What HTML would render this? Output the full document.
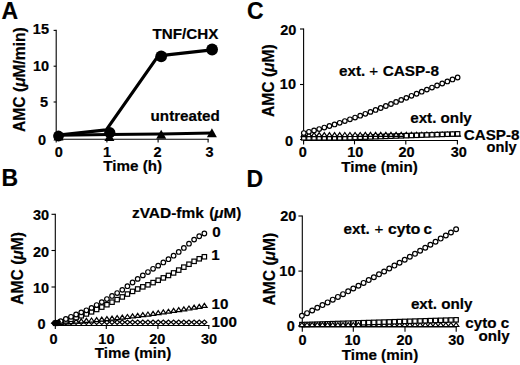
<!DOCTYPE html>
<html><head><meta charset="utf-8"><title>Figure</title>
<style>
html,body{margin:0;padding:0;background:#fff;}
body{width:520px;height:365px;overflow:hidden;}
svg{display:block;}
text{font-family:"Liberation Sans", sans-serif;font-weight:bold;fill:#000;stroke:#000;stroke-width:0.2px;}
</style></head>
<body>
<svg width="520" height="365" viewBox="0 0 520 365">
<rect width="520" height="365" fill="#fff"/>
<text x="1.50" y="18.80" font-size="23" text-anchor="start" >A</text>
<text x="1.40" y="185.80" font-size="23" text-anchor="start" >B</text>
<text x="246.90" y="18.80" font-size="23" text-anchor="start" >C</text>
<text x="246.60" y="186.50" font-size="23" text-anchor="start" >D</text>
<line x1="56.20" y1="29.80" x2="56.20" y2="139.80" stroke="#000" stroke-width="1.1"/>
<line x1="53.60" y1="30.40" x2="56.20" y2="30.40" stroke="#000" stroke-width="1.1"/>
<line x1="53.60" y1="66.20" x2="56.20" y2="66.20" stroke="#000" stroke-width="1.1"/>
<line x1="53.60" y1="102.00" x2="56.20" y2="102.00" stroke="#000" stroke-width="1.1"/>
<line x1="55.60" y1="139.20" x2="208.70" y2="139.20" stroke="#000" stroke-width="1.1"/>
<line x1="56.20" y1="139.20" x2="56.20" y2="142.50" stroke="#000" stroke-width="1.1"/>
<line x1="106.90" y1="139.20" x2="106.90" y2="142.50" stroke="#000" stroke-width="1.1"/>
<line x1="158.10" y1="139.20" x2="158.10" y2="142.50" stroke="#000" stroke-width="1.1"/>
<line x1="208.10" y1="139.20" x2="208.10" y2="142.50" stroke="#000" stroke-width="1.1"/>
<text x="49.00" y="34.00" font-size="14.5" text-anchor="end" >15</text>
<text x="49.10" y="70.60" font-size="14.5" text-anchor="end" >10</text>
<text x="48.00" y="107.30" font-size="14.5" text-anchor="end" >5</text>
<text x="46.10" y="145.00" font-size="14.5" text-anchor="end" >0</text>
<text x="58.80" y="156.70" font-size="14.5" text-anchor="middle" >0</text>
<text x="107.00" y="156.70" font-size="14.5" text-anchor="middle" >1</text>
<text x="157.50" y="156.70" font-size="14.5" text-anchor="middle" >2</text>
<text x="209.50" y="156.70" font-size="14.5" text-anchor="middle" >3</text>
<text x="103.30" y="171.20" font-size="15.2" text-anchor="start" >Time (h)</text>
<text transform="translate(24.50,79.55) rotate(-90)" font-size="15.6" text-anchor="middle">AMC (<tspan font-style="italic">μ</tspan>M/min)</text>
<text x="152.50" y="38.80" font-size="15.2" text-anchor="start" >TNF/CHX</text>
<text x="150.60" y="121.20" font-size="15.2" text-anchor="start" >untreated</text>
<polyline points="58.5,135.2 109.5,134.6 161.2,134.1 212,133.1" fill="none" stroke="#000" stroke-width="3"/>
<polygon points="53.50,140.50 63.50,140.50 58.50,131.50" fill="#000"/>
<polygon points="104.40,141.10 114.40,141.10 109.40,132.10" fill="#000"/>
<polygon points="156.20,138.80 166.20,138.80 161.20,129.80" fill="#000"/>
<polygon points="206.90,137.30 216.90,137.30 211.90,128.30" fill="#000"/>
<polyline points="58.5,135.2 106.3,129.8 158.2,55.8 212,49.9" fill="none" stroke="#000" stroke-width="3.2" stroke-linejoin="round"/>
<circle cx="58.5" cy="136.0" r="5.4" fill="#000"/>
<circle cx="109.8" cy="132.6" r="5.6" fill="#000"/>
<circle cx="161.2" cy="56.3" r="5.9" fill="#000"/>
<circle cx="212.1" cy="49.5" r="5.9" fill="#000"/>
<line x1="55.30" y1="213.70" x2="55.30" y2="326.00" stroke="#000" stroke-width="1.1"/>
<line x1="51.50" y1="214.30" x2="55.30" y2="214.30" stroke="#000" stroke-width="1.1"/>
<line x1="51.50" y1="250.50" x2="55.30" y2="250.50" stroke="#000" stroke-width="1.1"/>
<line x1="51.50" y1="287.00" x2="55.30" y2="287.00" stroke="#000" stroke-width="1.1"/>
<line x1="51.50" y1="323.30" x2="55.30" y2="323.30" stroke="#000" stroke-width="1.1"/>
<line x1="54.70" y1="325.50" x2="209.40" y2="325.50" stroke="#000" stroke-width="1.1"/>
<line x1="55.30" y1="325.50" x2="55.30" y2="329.00" stroke="#000" stroke-width="1.1"/>
<line x1="106.30" y1="325.50" x2="106.30" y2="329.00" stroke="#000" stroke-width="1.1"/>
<line x1="157.90" y1="325.50" x2="157.90" y2="329.00" stroke="#000" stroke-width="1.1"/>
<line x1="208.80" y1="325.50" x2="208.80" y2="329.00" stroke="#000" stroke-width="1.1"/>
<text x="49.10" y="220.30" font-size="14.5" text-anchor="end" >30</text>
<text x="49.10" y="256.80" font-size="14.5" text-anchor="end" >20</text>
<text x="49.10" y="293.30" font-size="14.5" text-anchor="end" >10</text>
<text x="45.60" y="329.10" font-size="14.5" text-anchor="end" >0</text>
<text x="53.50" y="343.60" font-size="14.5" text-anchor="middle" >0</text>
<text x="106.40" y="343.60" font-size="14.5" text-anchor="middle" >10</text>
<text x="157.30" y="343.60" font-size="14.5" text-anchor="middle" >20</text>
<text x="209.00" y="343.60" font-size="14.5" text-anchor="middle" >30</text>
<text x="94.80" y="358.30" font-size="15.2" text-anchor="start" >Time (min)</text>
<text transform="translate(22.80,268.40) rotate(-90)" font-size="15.6" text-anchor="middle">AMC (<tspan font-style="italic">μ</tspan>M)</text>
<text x="131.90" y="218.00" font-size="15.2" text-anchor="start" textLength="72" lengthAdjust="spacingAndGlyphs">zVAD-fmk</text>
<text x="209.30" y="218.00" font-size="15.2" text-anchor="start" >(<tspan font-style="italic">μ</tspan>M)</text>
<text x="212.30" y="236.70" font-size="15.2" text-anchor="start" >0</text>
<text x="211.20" y="259.90" font-size="15.2" text-anchor="start" >1</text>
<text x="211.50" y="308.60" font-size="15.2" text-anchor="start" >10</text>
<text x="211.50" y="327.40" font-size="15.2" text-anchor="start" >100</text>
<polygon points="53.15,322.39 55.60,320.19 58.05,322.39 55.60,324.59" fill="#fff" stroke="#000" stroke-width="1.2"/>
<polygon points="58.28,322.38 60.73,320.18 63.18,322.38 60.73,324.58" fill="#fff" stroke="#000" stroke-width="1.2"/>
<polygon points="63.41,322.38 65.86,320.18 68.31,322.38 65.86,324.58" fill="#fff" stroke="#000" stroke-width="1.2"/>
<polygon points="68.54,322.37 70.99,320.17 73.44,322.37 70.99,324.57" fill="#fff" stroke="#000" stroke-width="1.2"/>
<polygon points="73.67,322.36 76.12,320.16 78.57,322.36 76.12,324.56" fill="#fff" stroke="#000" stroke-width="1.2"/>
<polygon points="78.80,322.35 81.25,320.15 83.70,322.35 81.25,324.55" fill="#fff" stroke="#000" stroke-width="1.2"/>
<polygon points="83.93,322.35 86.38,320.15 88.83,322.35 86.38,324.55" fill="#fff" stroke="#000" stroke-width="1.2"/>
<polygon points="89.06,322.34 91.51,320.14 93.96,322.34 91.51,324.54" fill="#fff" stroke="#000" stroke-width="1.2"/>
<polygon points="94.19,322.33 96.64,320.13 99.09,322.33 96.64,324.53" fill="#fff" stroke="#000" stroke-width="1.2"/>
<polygon points="99.32,322.33 101.77,320.13 104.22,322.33 101.77,324.53" fill="#fff" stroke="#000" stroke-width="1.2"/>
<polygon points="104.45,322.32 106.90,320.12 109.35,322.32 106.90,324.52" fill="#fff" stroke="#000" stroke-width="1.2"/>
<polygon points="109.58,322.31 112.03,320.11 114.48,322.31 112.03,324.51" fill="#fff" stroke="#000" stroke-width="1.2"/>
<polygon points="114.71,322.30 117.16,320.10 119.61,322.30 117.16,324.50" fill="#fff" stroke="#000" stroke-width="1.2"/>
<polygon points="119.84,322.30 122.29,320.10 124.74,322.30 122.29,324.50" fill="#fff" stroke="#000" stroke-width="1.2"/>
<polygon points="124.97,322.29 127.42,320.09 129.87,322.29 127.42,324.49" fill="#fff" stroke="#000" stroke-width="1.2"/>
<polygon points="130.10,322.28 132.55,320.08 135.00,322.28 132.55,324.48" fill="#fff" stroke="#000" stroke-width="1.2"/>
<polygon points="135.23,322.27 137.68,320.07 140.13,322.27 137.68,324.47" fill="#fff" stroke="#000" stroke-width="1.2"/>
<polygon points="140.36,322.27 142.81,320.07 145.26,322.27 142.81,324.47" fill="#fff" stroke="#000" stroke-width="1.2"/>
<polygon points="145.49,322.26 147.94,320.06 150.39,322.26 147.94,324.46" fill="#fff" stroke="#000" stroke-width="1.2"/>
<polygon points="150.62,322.25 153.07,320.05 155.52,322.25 153.07,324.45" fill="#fff" stroke="#000" stroke-width="1.2"/>
<polygon points="155.75,322.25 158.20,320.05 160.65,322.25 158.20,324.45" fill="#fff" stroke="#000" stroke-width="1.2"/>
<polygon points="160.88,322.24 163.33,320.04 165.78,322.24 163.33,324.44" fill="#fff" stroke="#000" stroke-width="1.2"/>
<polygon points="166.01,322.23 168.46,320.03 170.91,322.23 168.46,324.43" fill="#fff" stroke="#000" stroke-width="1.2"/>
<polygon points="171.14,322.22 173.59,320.02 176.04,322.22 173.59,324.42" fill="#fff" stroke="#000" stroke-width="1.2"/>
<polygon points="176.27,322.22 178.72,320.02 181.17,322.22 178.72,324.42" fill="#fff" stroke="#000" stroke-width="1.2"/>
<polygon points="181.40,322.21 183.85,320.01 186.30,322.21 183.85,324.41" fill="#fff" stroke="#000" stroke-width="1.2"/>
<polygon points="186.53,322.20 188.98,320.00 191.43,322.20 188.98,324.40" fill="#fff" stroke="#000" stroke-width="1.2"/>
<polygon points="191.66,322.19 194.11,319.99 196.56,322.19 194.11,324.39" fill="#fff" stroke="#000" stroke-width="1.2"/>
<polygon points="196.79,322.19 199.24,319.99 201.69,322.19 199.24,324.39" fill="#fff" stroke="#000" stroke-width="1.2"/>
<polygon points="201.92,322.18 204.37,319.98 206.82,322.18 204.37,324.38" fill="#fff" stroke="#000" stroke-width="1.2"/>
<polygon points="52.90,324.47 58.30,324.47 55.60,320.47" fill="#fff" stroke="#000" stroke-width="1.2"/>
<polygon points="58.03,324.19 63.43,324.19 60.73,320.19" fill="#fff" stroke="#000" stroke-width="1.2"/>
<polygon points="63.16,323.88 68.56,323.88 65.86,319.88" fill="#fff" stroke="#000" stroke-width="1.2"/>
<polygon points="68.29,323.56 73.69,323.56 70.99,319.56" fill="#fff" stroke="#000" stroke-width="1.2"/>
<polygon points="73.42,323.21 78.82,323.21 76.12,319.21" fill="#fff" stroke="#000" stroke-width="1.2"/>
<polygon points="78.55,322.84 83.95,322.84 81.25,318.84" fill="#fff" stroke="#000" stroke-width="1.2"/>
<polygon points="83.68,322.44 89.08,322.44 86.38,318.44" fill="#fff" stroke="#000" stroke-width="1.2"/>
<polygon points="88.81,322.03 94.21,322.03 91.51,318.03" fill="#fff" stroke="#000" stroke-width="1.2"/>
<polygon points="93.94,321.59 99.34,321.59 96.64,317.59" fill="#fff" stroke="#000" stroke-width="1.2"/>
<polygon points="99.07,321.14 104.47,321.14 101.77,317.14" fill="#fff" stroke="#000" stroke-width="1.2"/>
<polygon points="104.20,320.66 109.60,320.66 106.90,316.66" fill="#fff" stroke="#000" stroke-width="1.2"/>
<polygon points="109.33,320.15 114.73,320.15 112.03,316.15" fill="#fff" stroke="#000" stroke-width="1.2"/>
<polygon points="114.46,319.63 119.86,319.63 117.16,315.63" fill="#fff" stroke="#000" stroke-width="1.2"/>
<polygon points="119.59,319.09 124.99,319.09 122.29,315.09" fill="#fff" stroke="#000" stroke-width="1.2"/>
<polygon points="124.72,318.52 130.12,318.52 127.42,314.52" fill="#fff" stroke="#000" stroke-width="1.2"/>
<polygon points="129.85,317.93 135.25,317.93 132.55,313.93" fill="#fff" stroke="#000" stroke-width="1.2"/>
<polygon points="134.98,317.32 140.38,317.32 137.68,313.32" fill="#fff" stroke="#000" stroke-width="1.2"/>
<polygon points="140.11,316.69 145.51,316.69 142.81,312.69" fill="#fff" stroke="#000" stroke-width="1.2"/>
<polygon points="145.24,316.03 150.64,316.03 147.94,312.03" fill="#fff" stroke="#000" stroke-width="1.2"/>
<polygon points="150.37,315.36 155.77,315.36 153.07,311.36" fill="#fff" stroke="#000" stroke-width="1.2"/>
<polygon points="155.50,314.66 160.90,314.66 158.20,310.66" fill="#fff" stroke="#000" stroke-width="1.2"/>
<polygon points="160.63,313.94 166.03,313.94 163.33,309.94" fill="#fff" stroke="#000" stroke-width="1.2"/>
<polygon points="165.76,313.20 171.16,313.20 168.46,309.20" fill="#fff" stroke="#000" stroke-width="1.2"/>
<polygon points="170.89,312.43 176.29,312.43 173.59,308.43" fill="#fff" stroke="#000" stroke-width="1.2"/>
<polygon points="176.02,311.65 181.42,311.65 178.72,307.65" fill="#fff" stroke="#000" stroke-width="1.2"/>
<polygon points="181.15,310.84 186.55,310.84 183.85,306.84" fill="#fff" stroke="#000" stroke-width="1.2"/>
<polygon points="186.28,310.01 191.68,310.01 188.98,306.01" fill="#fff" stroke="#000" stroke-width="1.2"/>
<polygon points="191.41,309.16 196.81,309.16 194.11,305.16" fill="#fff" stroke="#000" stroke-width="1.2"/>
<polygon points="196.54,308.29 201.94,308.29 199.24,304.29" fill="#fff" stroke="#000" stroke-width="1.2"/>
<polygon points="201.67,307.40 207.07,307.40 204.37,303.40" fill="#fff" stroke="#000" stroke-width="1.2"/>
<rect x="53.40" y="321.10" width="4.4" height="4.4" fill="#fff" stroke="#000" stroke-width="1.2"/>
<rect x="58.53" y="319.98" width="4.4" height="4.4" fill="#fff" stroke="#000" stroke-width="1.2"/>
<rect x="63.66" y="318.68" width="4.4" height="4.4" fill="#fff" stroke="#000" stroke-width="1.2"/>
<rect x="68.79" y="317.13" width="4.4" height="4.4" fill="#fff" stroke="#000" stroke-width="1.2"/>
<rect x="73.92" y="315.40" width="4.4" height="4.4" fill="#fff" stroke="#000" stroke-width="1.2"/>
<rect x="79.05" y="313.60" width="4.4" height="4.4" fill="#fff" stroke="#000" stroke-width="1.2"/>
<rect x="84.18" y="311.75" width="4.4" height="4.4" fill="#fff" stroke="#000" stroke-width="1.2"/>
<rect x="89.31" y="309.64" width="4.4" height="4.4" fill="#fff" stroke="#000" stroke-width="1.2"/>
<rect x="94.44" y="307.27" width="4.4" height="4.4" fill="#fff" stroke="#000" stroke-width="1.2"/>
<rect x="99.57" y="304.91" width="4.4" height="4.4" fill="#fff" stroke="#000" stroke-width="1.2"/>
<rect x="104.70" y="302.53" width="4.4" height="4.4" fill="#fff" stroke="#000" stroke-width="1.2"/>
<rect x="109.83" y="299.98" width="4.4" height="4.4" fill="#fff" stroke="#000" stroke-width="1.2"/>
<rect x="114.96" y="297.41" width="4.4" height="4.4" fill="#fff" stroke="#000" stroke-width="1.2"/>
<rect x="120.09" y="294.73" width="4.4" height="4.4" fill="#fff" stroke="#000" stroke-width="1.2"/>
<rect x="125.22" y="291.86" width="4.4" height="4.4" fill="#fff" stroke="#000" stroke-width="1.2"/>
<rect x="130.35" y="289.18" width="4.4" height="4.4" fill="#fff" stroke="#000" stroke-width="1.2"/>
<rect x="135.48" y="286.80" width="4.4" height="4.4" fill="#fff" stroke="#000" stroke-width="1.2"/>
<rect x="140.61" y="284.66" width="4.4" height="4.4" fill="#fff" stroke="#000" stroke-width="1.2"/>
<rect x="145.74" y="282.61" width="4.4" height="4.4" fill="#fff" stroke="#000" stroke-width="1.2"/>
<rect x="150.87" y="280.40" width="4.4" height="4.4" fill="#fff" stroke="#000" stroke-width="1.2"/>
<rect x="156.00" y="278.06" width="4.4" height="4.4" fill="#fff" stroke="#000" stroke-width="1.2"/>
<rect x="161.13" y="275.68" width="4.4" height="4.4" fill="#fff" stroke="#000" stroke-width="1.2"/>
<rect x="166.26" y="273.26" width="4.4" height="4.4" fill="#fff" stroke="#000" stroke-width="1.2"/>
<rect x="171.39" y="270.73" width="4.4" height="4.4" fill="#fff" stroke="#000" stroke-width="1.2"/>
<rect x="176.52" y="267.90" width="4.4" height="4.4" fill="#fff" stroke="#000" stroke-width="1.2"/>
<rect x="181.65" y="264.94" width="4.4" height="4.4" fill="#fff" stroke="#000" stroke-width="1.2"/>
<rect x="186.78" y="262.03" width="4.4" height="4.4" fill="#fff" stroke="#000" stroke-width="1.2"/>
<rect x="191.91" y="259.12" width="4.4" height="4.4" fill="#fff" stroke="#000" stroke-width="1.2"/>
<rect x="197.04" y="256.58" width="4.4" height="4.4" fill="#fff" stroke="#000" stroke-width="1.2"/>
<rect x="202.17" y="254.58" width="4.4" height="4.4" fill="#fff" stroke="#000" stroke-width="1.2"/>
<circle cx="55.60" cy="323.30" r="2.3" fill="#fff" stroke="#000" stroke-width="1.2"/>
<circle cx="60.73" cy="321.08" r="2.3" fill="#fff" stroke="#000" stroke-width="1.2"/>
<circle cx="65.86" cy="318.98" r="2.3" fill="#fff" stroke="#000" stroke-width="1.2"/>
<circle cx="70.99" cy="316.80" r="2.3" fill="#fff" stroke="#000" stroke-width="1.2"/>
<circle cx="76.12" cy="314.52" r="2.3" fill="#fff" stroke="#000" stroke-width="1.2"/>
<circle cx="81.25" cy="312.37" r="2.3" fill="#fff" stroke="#000" stroke-width="1.2"/>
<circle cx="86.38" cy="310.30" r="2.3" fill="#fff" stroke="#000" stroke-width="1.2"/>
<circle cx="91.51" cy="307.91" r="2.3" fill="#fff" stroke="#000" stroke-width="1.2"/>
<circle cx="96.64" cy="305.03" r="2.3" fill="#fff" stroke="#000" stroke-width="1.2"/>
<circle cx="101.77" cy="302.11" r="2.3" fill="#fff" stroke="#000" stroke-width="1.2"/>
<circle cx="106.90" cy="299.05" r="2.3" fill="#fff" stroke="#000" stroke-width="1.2"/>
<circle cx="112.03" cy="295.95" r="2.3" fill="#fff" stroke="#000" stroke-width="1.2"/>
<circle cx="117.16" cy="293.05" r="2.3" fill="#fff" stroke="#000" stroke-width="1.2"/>
<circle cx="122.29" cy="289.83" r="2.3" fill="#fff" stroke="#000" stroke-width="1.2"/>
<circle cx="127.42" cy="286.20" r="2.3" fill="#fff" stroke="#000" stroke-width="1.2"/>
<circle cx="132.55" cy="282.50" r="2.3" fill="#fff" stroke="#000" stroke-width="1.2"/>
<circle cx="137.68" cy="278.90" r="2.3" fill="#fff" stroke="#000" stroke-width="1.2"/>
<circle cx="142.81" cy="275.42" r="2.3" fill="#fff" stroke="#000" stroke-width="1.2"/>
<circle cx="147.94" cy="272.05" r="2.3" fill="#fff" stroke="#000" stroke-width="1.2"/>
<circle cx="153.07" cy="268.82" r="2.3" fill="#fff" stroke="#000" stroke-width="1.2"/>
<circle cx="158.20" cy="265.64" r="2.3" fill="#fff" stroke="#000" stroke-width="1.2"/>
<circle cx="163.33" cy="262.46" r="2.3" fill="#fff" stroke="#000" stroke-width="1.2"/>
<circle cx="168.46" cy="259.19" r="2.3" fill="#fff" stroke="#000" stroke-width="1.2"/>
<circle cx="173.59" cy="255.69" r="2.3" fill="#fff" stroke="#000" stroke-width="1.2"/>
<circle cx="178.72" cy="251.96" r="2.3" fill="#fff" stroke="#000" stroke-width="1.2"/>
<circle cx="183.85" cy="247.96" r="2.3" fill="#fff" stroke="#000" stroke-width="1.2"/>
<circle cx="188.98" cy="243.69" r="2.3" fill="#fff" stroke="#000" stroke-width="1.2"/>
<circle cx="194.11" cy="239.60" r="2.3" fill="#fff" stroke="#000" stroke-width="1.2"/>
<circle cx="199.24" cy="236.24" r="2.3" fill="#fff" stroke="#000" stroke-width="1.2"/>
<circle cx="204.37" cy="233.52" r="2.3" fill="#fff" stroke="#000" stroke-width="1.2"/>
<path d="M50.6,323.3 L53.5,320.6 L59.5,319.6 L61,321.5 L60,325 L53.5,325 Z" fill="#000"/>
<line x1="303.60" y1="28.40" x2="303.60" y2="141.30" stroke="#000" stroke-width="1.1"/>
<line x1="300.00" y1="29.00" x2="303.60" y2="29.00" stroke="#000" stroke-width="1.1"/>
<line x1="300.00" y1="84.50" x2="303.60" y2="84.50" stroke="#000" stroke-width="1.1"/>
<line x1="300.00" y1="139.50" x2="303.60" y2="139.50" stroke="#000" stroke-width="1.1"/>
<line x1="303.00" y1="140.50" x2="458.00" y2="140.50" stroke="#000" stroke-width="1.1"/>
<line x1="303.60" y1="140.50" x2="303.60" y2="144.40" stroke="#000" stroke-width="1.1"/>
<line x1="354.50" y1="140.50" x2="354.50" y2="144.40" stroke="#000" stroke-width="1.1"/>
<line x1="405.80" y1="140.50" x2="405.80" y2="144.40" stroke="#000" stroke-width="1.1"/>
<line x1="457.40" y1="140.50" x2="457.40" y2="144.40" stroke="#000" stroke-width="1.1"/>
<text x="296.30" y="35.00" font-size="14.5" text-anchor="end" >20</text>
<text x="296.00" y="89.20" font-size="14.5" text-anchor="end" >10</text>
<text x="293.10" y="145.90" font-size="14.5" text-anchor="end" >0</text>
<text x="302.90" y="157.10" font-size="14.5" text-anchor="middle" >0</text>
<text x="355.30" y="157.10" font-size="14.5" text-anchor="middle" >10</text>
<text x="406.50" y="157.10" font-size="14.5" text-anchor="middle" >20</text>
<text x="458.70" y="157.10" font-size="14.5" text-anchor="middle" >30</text>
<text x="341.30" y="172.30" font-size="15.2" text-anchor="start" >Time (min)</text>
<text transform="translate(274.10,80.65) rotate(-90)" font-size="15.6" text-anchor="middle">AMC (<tspan font-style="italic">μ</tspan>M)</text>
<text x="339.00" y="76.25" font-size="15.2" text-anchor="start" >ext.</text>
<text x="369.20" y="76.00" font-size="15.2" text-anchor="start" style="font-weight:normal">+</text>
<text x="382.70" y="76.25" font-size="15.2" text-anchor="start" textLength="56.3" lengthAdjust="spacingAndGlyphs">CASP-8</text>
<text x="410.20" y="123.10" font-size="15.2" text-anchor="start" >ext. only</text>
<text x="463.80" y="139.80" font-size="15.2" text-anchor="start" >CASP-8</text>
<text x="486.60" y="151.80" font-size="14.6" text-anchor="start" >only</text>
<rect x="301.60" y="135.64" width="4.4" height="4.4" fill="#fff" stroke="#000" stroke-width="1.2"/>
<rect x="306.73" y="135.64" width="4.4" height="4.4" fill="#fff" stroke="#000" stroke-width="1.2"/>
<rect x="311.85" y="135.64" width="4.4" height="4.4" fill="#fff" stroke="#000" stroke-width="1.2"/>
<rect x="316.98" y="135.64" width="4.4" height="4.4" fill="#fff" stroke="#000" stroke-width="1.2"/>
<rect x="322.11" y="135.64" width="4.4" height="4.4" fill="#fff" stroke="#000" stroke-width="1.2"/>
<rect x="327.24" y="135.64" width="4.4" height="4.4" fill="#fff" stroke="#000" stroke-width="1.2"/>
<rect x="332.36" y="135.64" width="4.4" height="4.4" fill="#fff" stroke="#000" stroke-width="1.2"/>
<rect x="337.49" y="135.64" width="4.4" height="4.4" fill="#fff" stroke="#000" stroke-width="1.2"/>
<rect x="342.62" y="135.64" width="4.4" height="4.4" fill="#fff" stroke="#000" stroke-width="1.2"/>
<rect x="347.74" y="135.46" width="4.4" height="4.4" fill="#fff" stroke="#000" stroke-width="1.2"/>
<rect x="352.87" y="135.28" width="4.4" height="4.4" fill="#fff" stroke="#000" stroke-width="1.2"/>
<rect x="358.00" y="135.10" width="4.4" height="4.4" fill="#fff" stroke="#000" stroke-width="1.2"/>
<rect x="363.12" y="134.92" width="4.4" height="4.4" fill="#fff" stroke="#000" stroke-width="1.2"/>
<rect x="368.25" y="134.74" width="4.4" height="4.4" fill="#fff" stroke="#000" stroke-width="1.2"/>
<rect x="373.38" y="134.56" width="4.4" height="4.4" fill="#fff" stroke="#000" stroke-width="1.2"/>
<rect x="378.51" y="134.38" width="4.4" height="4.4" fill="#fff" stroke="#000" stroke-width="1.2"/>
<rect x="383.63" y="134.20" width="4.4" height="4.4" fill="#fff" stroke="#000" stroke-width="1.2"/>
<rect x="388.76" y="134.02" width="4.4" height="4.4" fill="#fff" stroke="#000" stroke-width="1.2"/>
<rect x="393.89" y="133.83" width="4.4" height="4.4" fill="#fff" stroke="#000" stroke-width="1.2"/>
<rect x="399.01" y="133.65" width="4.4" height="4.4" fill="#fff" stroke="#000" stroke-width="1.2"/>
<polygon points="301.10,136.70 306.50,136.70 303.80,132.70" fill="#fff" stroke="#000" stroke-width="1.2"/>
<polygon points="306.23,136.68 311.63,136.68 308.93,132.68" fill="#fff" stroke="#000" stroke-width="1.2"/>
<polygon points="311.35,136.66 316.75,136.66 314.05,132.66" fill="#fff" stroke="#000" stroke-width="1.2"/>
<polygon points="316.48,136.64 321.88,136.64 319.18,132.64" fill="#fff" stroke="#000" stroke-width="1.2"/>
<polygon points="321.61,136.62 327.01,136.62 324.31,132.62" fill="#fff" stroke="#000" stroke-width="1.2"/>
<polygon points="326.74,136.59 332.13,136.59 329.44,132.59" fill="#fff" stroke="#000" stroke-width="1.2"/>
<polygon points="331.86,136.57 337.26,136.57 334.56,132.57" fill="#fff" stroke="#000" stroke-width="1.2"/>
<polygon points="336.99,136.55 342.39,136.55 339.69,132.55" fill="#fff" stroke="#000" stroke-width="1.2"/>
<polygon points="342.12,136.53 347.52,136.53 344.82,132.53" fill="#fff" stroke="#000" stroke-width="1.2"/>
<polygon points="347.24,136.50 352.64,136.50 349.94,132.50" fill="#fff" stroke="#000" stroke-width="1.2"/>
<polygon points="352.37,136.48 357.77,136.48 355.07,132.48" fill="#fff" stroke="#000" stroke-width="1.2"/>
<polygon points="357.50,136.46 362.90,136.46 360.20,132.46" fill="#fff" stroke="#000" stroke-width="1.2"/>
<polygon points="362.62,136.44 368.02,136.44 365.32,132.44" fill="#fff" stroke="#000" stroke-width="1.2"/>
<polygon points="367.75,136.42 373.15,136.42 370.45,132.42" fill="#fff" stroke="#000" stroke-width="1.2"/>
<polygon points="372.88,136.39 378.28,136.39 375.58,132.39" fill="#fff" stroke="#000" stroke-width="1.2"/>
<polygon points="378.01,136.37 383.41,136.37 380.71,132.37" fill="#fff" stroke="#000" stroke-width="1.2"/>
<polygon points="383.13,136.35 388.53,136.35 385.83,132.35" fill="#fff" stroke="#000" stroke-width="1.2"/>
<polygon points="388.26,136.33 393.66,136.33 390.96,132.33" fill="#fff" stroke="#000" stroke-width="1.2"/>
<polygon points="393.39,136.31 398.79,136.31 396.09,132.31" fill="#fff" stroke="#000" stroke-width="1.2"/>
<polygon points="398.51,136.28 403.91,136.28 401.21,132.28" fill="#fff" stroke="#000" stroke-width="1.2"/>
<polygon points="403.64,136.26 409.04,136.26 406.34,132.26" fill="#fff" stroke="#000" stroke-width="1.2"/>
<polygon points="408.77,136.24 414.17,136.24 411.47,132.24" fill="#fff" stroke="#000" stroke-width="1.2"/>
<polygon points="413.89,136.22 419.29,136.22 416.59,132.22" fill="#fff" stroke="#000" stroke-width="1.2"/>
<polygon points="419.02,136.20 424.42,136.20 421.72,132.20" fill="#fff" stroke="#000" stroke-width="1.2"/>
<polygon points="424.15,136.17 429.55,136.17 426.85,132.17" fill="#fff" stroke="#000" stroke-width="1.2"/>
<polygon points="429.28,136.15 434.68,136.15 431.98,132.15" fill="#fff" stroke="#000" stroke-width="1.2"/>
<polygon points="434.40,136.13 439.80,136.13 437.10,132.13" fill="#fff" stroke="#000" stroke-width="1.2"/>
<polygon points="439.53,136.11 444.93,136.11 442.23,132.11" fill="#fff" stroke="#000" stroke-width="1.2"/>
<polygon points="444.66,136.08 450.06,136.08 447.36,132.08" fill="#fff" stroke="#000" stroke-width="1.2"/>
<polygon points="449.78,136.06 455.18,136.06 452.48,132.06" fill="#fff" stroke="#000" stroke-width="1.2"/>
<polygon points="454.91,136.04 460.31,136.04 457.61,132.04" fill="#fff" stroke="#000" stroke-width="1.2"/>
<rect x="404.14" y="133.47" width="4.4" height="4.4" fill="#fff" stroke="#000" stroke-width="1.2"/>
<rect x="409.27" y="133.29" width="4.4" height="4.4" fill="#fff" stroke="#000" stroke-width="1.2"/>
<rect x="414.39" y="133.11" width="4.4" height="4.4" fill="#fff" stroke="#000" stroke-width="1.2"/>
<rect x="419.52" y="132.93" width="4.4" height="4.4" fill="#fff" stroke="#000" stroke-width="1.2"/>
<rect x="424.65" y="132.75" width="4.4" height="4.4" fill="#fff" stroke="#000" stroke-width="1.2"/>
<rect x="429.78" y="132.57" width="4.4" height="4.4" fill="#fff" stroke="#000" stroke-width="1.2"/>
<rect x="434.90" y="132.39" width="4.4" height="4.4" fill="#fff" stroke="#000" stroke-width="1.2"/>
<rect x="440.03" y="132.21" width="4.4" height="4.4" fill="#fff" stroke="#000" stroke-width="1.2"/>
<rect x="445.16" y="132.03" width="4.4" height="4.4" fill="#fff" stroke="#000" stroke-width="1.2"/>
<rect x="450.28" y="131.85" width="4.4" height="4.4" fill="#fff" stroke="#000" stroke-width="1.2"/>
<rect x="455.41" y="131.66" width="4.4" height="4.4" fill="#fff" stroke="#000" stroke-width="1.2"/>
<circle cx="303.80" cy="133.05" r="2.3" fill="#fff" stroke="#000" stroke-width="1.2"/>
<circle cx="308.93" cy="131.78" r="2.3" fill="#fff" stroke="#000" stroke-width="1.2"/>
<circle cx="314.05" cy="130.44" r="2.3" fill="#fff" stroke="#000" stroke-width="1.2"/>
<circle cx="319.18" cy="129.03" r="2.3" fill="#fff" stroke="#000" stroke-width="1.2"/>
<circle cx="324.31" cy="127.56" r="2.3" fill="#fff" stroke="#000" stroke-width="1.2"/>
<circle cx="329.44" cy="126.02" r="2.3" fill="#fff" stroke="#000" stroke-width="1.2"/>
<circle cx="334.56" cy="124.43" r="2.3" fill="#fff" stroke="#000" stroke-width="1.2"/>
<circle cx="339.69" cy="122.78" r="2.3" fill="#fff" stroke="#000" stroke-width="1.2"/>
<circle cx="344.82" cy="121.07" r="2.3" fill="#fff" stroke="#000" stroke-width="1.2"/>
<circle cx="349.94" cy="119.32" r="2.3" fill="#fff" stroke="#000" stroke-width="1.2"/>
<circle cx="355.07" cy="117.53" r="2.3" fill="#fff" stroke="#000" stroke-width="1.2"/>
<circle cx="360.20" cy="115.69" r="2.3" fill="#fff" stroke="#000" stroke-width="1.2"/>
<circle cx="365.32" cy="113.82" r="2.3" fill="#fff" stroke="#000" stroke-width="1.2"/>
<circle cx="370.45" cy="111.91" r="2.3" fill="#fff" stroke="#000" stroke-width="1.2"/>
<circle cx="375.58" cy="109.97" r="2.3" fill="#fff" stroke="#000" stroke-width="1.2"/>
<circle cx="380.71" cy="108.00" r="2.3" fill="#fff" stroke="#000" stroke-width="1.2"/>
<circle cx="385.83" cy="106.01" r="2.3" fill="#fff" stroke="#000" stroke-width="1.2"/>
<circle cx="390.96" cy="104.00" r="2.3" fill="#fff" stroke="#000" stroke-width="1.2"/>
<circle cx="396.09" cy="101.97" r="2.3" fill="#fff" stroke="#000" stroke-width="1.2"/>
<circle cx="401.21" cy="99.92" r="2.3" fill="#fff" stroke="#000" stroke-width="1.2"/>
<circle cx="406.34" cy="97.87" r="2.3" fill="#fff" stroke="#000" stroke-width="1.2"/>
<circle cx="411.47" cy="95.81" r="2.3" fill="#fff" stroke="#000" stroke-width="1.2"/>
<circle cx="416.59" cy="93.74" r="2.3" fill="#fff" stroke="#000" stroke-width="1.2"/>
<circle cx="421.72" cy="91.68" r="2.3" fill="#fff" stroke="#000" stroke-width="1.2"/>
<circle cx="426.85" cy="89.61" r="2.3" fill="#fff" stroke="#000" stroke-width="1.2"/>
<circle cx="431.98" cy="87.56" r="2.3" fill="#fff" stroke="#000" stroke-width="1.2"/>
<circle cx="437.10" cy="85.51" r="2.3" fill="#fff" stroke="#000" stroke-width="1.2"/>
<circle cx="442.23" cy="83.48" r="2.3" fill="#fff" stroke="#000" stroke-width="1.2"/>
<circle cx="447.36" cy="81.46" r="2.3" fill="#fff" stroke="#000" stroke-width="1.2"/>
<circle cx="452.48" cy="79.47" r="2.3" fill="#fff" stroke="#000" stroke-width="1.2"/>
<circle cx="457.61" cy="77.50" r="2.3" fill="#fff" stroke="#000" stroke-width="1.2"/>
<line x1="302.30" y1="215.40" x2="302.30" y2="327.60" stroke="#000" stroke-width="1.1"/>
<line x1="298.40" y1="216.00" x2="302.30" y2="216.00" stroke="#000" stroke-width="1.1"/>
<line x1="298.40" y1="271.10" x2="302.30" y2="271.10" stroke="#000" stroke-width="1.1"/>
<line x1="298.40" y1="325.50" x2="302.30" y2="325.50" stroke="#000" stroke-width="1.1"/>
<line x1="301.70" y1="327.00" x2="456.80" y2="327.00" stroke="#000" stroke-width="1.1"/>
<line x1="302.30" y1="327.00" x2="302.30" y2="331.80" stroke="#000" stroke-width="1.1"/>
<line x1="353.30" y1="327.00" x2="353.30" y2="331.80" stroke="#000" stroke-width="1.1"/>
<line x1="405.00" y1="327.00" x2="405.00" y2="331.80" stroke="#000" stroke-width="1.1"/>
<line x1="456.20" y1="327.00" x2="456.20" y2="331.80" stroke="#000" stroke-width="1.1"/>
<text x="296.30" y="221.40" font-size="14.5" text-anchor="end" >20</text>
<text x="295.50" y="276.30" font-size="14.5" text-anchor="end" >10</text>
<text x="294.90" y="330.70" font-size="14.5" text-anchor="end" >0</text>
<text x="302.50" y="345.00" font-size="14.5" text-anchor="middle" >0</text>
<text x="352.50" y="345.00" font-size="14.5" text-anchor="middle" >10</text>
<text x="404.60" y="345.00" font-size="14.5" text-anchor="middle" >20</text>
<text x="456.30" y="345.00" font-size="14.5" text-anchor="middle" >30</text>
<text x="341.70" y="359.80" font-size="15.2" text-anchor="start" >Time (min)</text>
<text transform="translate(275.00,269.10) rotate(-90)" font-size="15.6" text-anchor="middle">AMC (<tspan font-style="italic">μ</tspan>M)</text>
<text x="343.60" y="234.40" font-size="15.2" text-anchor="start" >ext.</text>
<text x="374.60" y="234.40" font-size="15.2" text-anchor="start" style="font-weight:normal">+</text>
<text x="388.00" y="234.40" font-size="15.2" text-anchor="start" textLength="32.2" lengthAdjust="spacingAndGlyphs">cyto</text>
<text x="423.60" y="234.40" font-size="15.2" text-anchor="start" >c</text>
<text x="410.90" y="308.80" font-size="15.2" text-anchor="start" >ext. only</text>
<text x="465.30" y="328.00" font-size="15.2" text-anchor="start" >cyto c</text>
<text x="478.50" y="340.60" font-size="15.2" text-anchor="start" >only</text>
<rect x="299.70" y="322.40" width="4.4" height="4.4" fill="#fff" stroke="#000" stroke-width="1.2"/>
<rect x="304.84" y="322.24" width="4.4" height="4.4" fill="#fff" stroke="#000" stroke-width="1.2"/>
<rect x="309.98" y="322.08" width="4.4" height="4.4" fill="#fff" stroke="#000" stroke-width="1.2"/>
<rect x="315.12" y="321.93" width="4.4" height="4.4" fill="#fff" stroke="#000" stroke-width="1.2"/>
<rect x="320.26" y="321.77" width="4.4" height="4.4" fill="#fff" stroke="#000" stroke-width="1.2"/>
<rect x="325.40" y="321.61" width="4.4" height="4.4" fill="#fff" stroke="#000" stroke-width="1.2"/>
<rect x="330.54" y="321.45" width="4.4" height="4.4" fill="#fff" stroke="#000" stroke-width="1.2"/>
<rect x="335.68" y="321.29" width="4.4" height="4.4" fill="#fff" stroke="#000" stroke-width="1.2"/>
<rect x="340.82" y="321.13" width="4.4" height="4.4" fill="#fff" stroke="#000" stroke-width="1.2"/>
<rect x="345.96" y="320.97" width="4.4" height="4.4" fill="#fff" stroke="#000" stroke-width="1.2"/>
<rect x="351.10" y="320.81" width="4.4" height="4.4" fill="#fff" stroke="#000" stroke-width="1.2"/>
<rect x="356.24" y="320.65" width="4.4" height="4.4" fill="#fff" stroke="#000" stroke-width="1.2"/>
<polygon points="299.20,326.50 304.60,326.50 301.90,322.50" fill="#fff" stroke="#000" stroke-width="1.2"/>
<polygon points="304.34,326.50 309.74,326.50 307.04,322.50" fill="#fff" stroke="#000" stroke-width="1.2"/>
<polygon points="309.48,326.50 314.88,326.50 312.18,322.50" fill="#fff" stroke="#000" stroke-width="1.2"/>
<polygon points="314.62,326.50 320.02,326.50 317.32,322.50" fill="#fff" stroke="#000" stroke-width="1.2"/>
<polygon points="319.76,326.50 325.16,326.50 322.46,322.50" fill="#fff" stroke="#000" stroke-width="1.2"/>
<polygon points="324.90,326.50 330.30,326.50 327.60,322.50" fill="#fff" stroke="#000" stroke-width="1.2"/>
<polygon points="330.04,326.50 335.44,326.50 332.74,322.50" fill="#fff" stroke="#000" stroke-width="1.2"/>
<polygon points="335.18,326.50 340.58,326.50 337.88,322.50" fill="#fff" stroke="#000" stroke-width="1.2"/>
<polygon points="340.32,326.50 345.72,326.50 343.02,322.50" fill="#fff" stroke="#000" stroke-width="1.2"/>
<polygon points="345.46,326.50 350.86,326.50 348.16,322.50" fill="#fff" stroke="#000" stroke-width="1.2"/>
<polygon points="350.60,326.50 356.00,326.50 353.30,322.50" fill="#fff" stroke="#000" stroke-width="1.2"/>
<polygon points="355.74,326.50 361.14,326.50 358.44,322.50" fill="#fff" stroke="#000" stroke-width="1.2"/>
<polygon points="360.88,326.50 366.28,326.50 363.58,322.50" fill="#fff" stroke="#000" stroke-width="1.2"/>
<polygon points="366.02,326.50 371.42,326.50 368.72,322.50" fill="#fff" stroke="#000" stroke-width="1.2"/>
<polygon points="371.16,326.50 376.56,326.50 373.86,322.50" fill="#fff" stroke="#000" stroke-width="1.2"/>
<polygon points="376.30,326.50 381.70,326.50 379.00,322.50" fill="#fff" stroke="#000" stroke-width="1.2"/>
<polygon points="381.44,326.50 386.84,326.50 384.14,322.50" fill="#fff" stroke="#000" stroke-width="1.2"/>
<polygon points="386.58,326.50 391.98,326.50 389.28,322.50" fill="#fff" stroke="#000" stroke-width="1.2"/>
<polygon points="391.72,326.50 397.12,326.50 394.42,322.50" fill="#fff" stroke="#000" stroke-width="1.2"/>
<polygon points="396.86,326.50 402.26,326.50 399.56,322.50" fill="#fff" stroke="#000" stroke-width="1.2"/>
<polygon points="402.00,326.50 407.40,326.50 404.70,322.50" fill="#fff" stroke="#000" stroke-width="1.2"/>
<polygon points="407.14,326.50 412.54,326.50 409.84,322.50" fill="#fff" stroke="#000" stroke-width="1.2"/>
<polygon points="412.28,326.50 417.68,326.50 414.98,322.50" fill="#fff" stroke="#000" stroke-width="1.2"/>
<polygon points="417.42,326.50 422.82,326.50 420.12,322.50" fill="#fff" stroke="#000" stroke-width="1.2"/>
<polygon points="422.56,326.50 427.96,326.50 425.26,322.50" fill="#fff" stroke="#000" stroke-width="1.2"/>
<polygon points="427.70,326.50 433.10,326.50 430.40,322.50" fill="#fff" stroke="#000" stroke-width="1.2"/>
<polygon points="432.84,326.50 438.24,326.50 435.54,322.50" fill="#fff" stroke="#000" stroke-width="1.2"/>
<polygon points="437.98,326.50 443.38,326.50 440.68,322.50" fill="#fff" stroke="#000" stroke-width="1.2"/>
<polygon points="443.12,326.50 448.52,326.50 445.82,322.50" fill="#fff" stroke="#000" stroke-width="1.2"/>
<polygon points="448.26,326.50 453.66,326.50 450.96,322.50" fill="#fff" stroke="#000" stroke-width="1.2"/>
<polygon points="453.40,326.50 458.80,326.50 456.10,322.50" fill="#fff" stroke="#000" stroke-width="1.2"/>
<rect x="361.38" y="320.49" width="4.4" height="4.4" fill="#fff" stroke="#000" stroke-width="1.2"/>
<rect x="366.52" y="320.34" width="4.4" height="4.4" fill="#fff" stroke="#000" stroke-width="1.2"/>
<rect x="371.66" y="320.18" width="4.4" height="4.4" fill="#fff" stroke="#000" stroke-width="1.2"/>
<rect x="376.80" y="320.02" width="4.4" height="4.4" fill="#fff" stroke="#000" stroke-width="1.2"/>
<rect x="381.94" y="319.86" width="4.4" height="4.4" fill="#fff" stroke="#000" stroke-width="1.2"/>
<rect x="387.08" y="319.70" width="4.4" height="4.4" fill="#fff" stroke="#000" stroke-width="1.2"/>
<rect x="392.22" y="319.54" width="4.4" height="4.4" fill="#fff" stroke="#000" stroke-width="1.2"/>
<rect x="397.36" y="319.38" width="4.4" height="4.4" fill="#fff" stroke="#000" stroke-width="1.2"/>
<rect x="402.50" y="319.22" width="4.4" height="4.4" fill="#fff" stroke="#000" stroke-width="1.2"/>
<rect x="407.64" y="319.06" width="4.4" height="4.4" fill="#fff" stroke="#000" stroke-width="1.2"/>
<rect x="412.78" y="318.90" width="4.4" height="4.4" fill="#fff" stroke="#000" stroke-width="1.2"/>
<rect x="417.92" y="318.74" width="4.4" height="4.4" fill="#fff" stroke="#000" stroke-width="1.2"/>
<rect x="423.06" y="318.59" width="4.4" height="4.4" fill="#fff" stroke="#000" stroke-width="1.2"/>
<rect x="428.20" y="318.43" width="4.4" height="4.4" fill="#fff" stroke="#000" stroke-width="1.2"/>
<rect x="433.34" y="318.27" width="4.4" height="4.4" fill="#fff" stroke="#000" stroke-width="1.2"/>
<rect x="438.48" y="318.11" width="4.4" height="4.4" fill="#fff" stroke="#000" stroke-width="1.2"/>
<rect x="443.62" y="317.95" width="4.4" height="4.4" fill="#fff" stroke="#000" stroke-width="1.2"/>
<rect x="448.76" y="317.79" width="4.4" height="4.4" fill="#fff" stroke="#000" stroke-width="1.2"/>
<rect x="453.90" y="317.63" width="4.4" height="4.4" fill="#fff" stroke="#000" stroke-width="1.2"/>
<circle cx="301.90" cy="315.83" r="2.4" fill="#fff" stroke="#000" stroke-width="1.2"/>
<circle cx="307.04" cy="313.17" r="2.4" fill="#fff" stroke="#000" stroke-width="1.2"/>
<circle cx="312.18" cy="310.50" r="2.4" fill="#fff" stroke="#000" stroke-width="1.2"/>
<circle cx="317.32" cy="307.81" r="2.4" fill="#fff" stroke="#000" stroke-width="1.2"/>
<circle cx="322.46" cy="305.11" r="2.4" fill="#fff" stroke="#000" stroke-width="1.2"/>
<circle cx="327.60" cy="302.39" r="2.4" fill="#fff" stroke="#000" stroke-width="1.2"/>
<circle cx="332.74" cy="299.66" r="2.4" fill="#fff" stroke="#000" stroke-width="1.2"/>
<circle cx="337.88" cy="296.91" r="2.4" fill="#fff" stroke="#000" stroke-width="1.2"/>
<circle cx="343.02" cy="294.14" r="2.4" fill="#fff" stroke="#000" stroke-width="1.2"/>
<circle cx="348.16" cy="291.36" r="2.4" fill="#fff" stroke="#000" stroke-width="1.2"/>
<circle cx="353.30" cy="288.56" r="2.4" fill="#fff" stroke="#000" stroke-width="1.2"/>
<circle cx="358.44" cy="285.75" r="2.4" fill="#fff" stroke="#000" stroke-width="1.2"/>
<circle cx="363.58" cy="282.92" r="2.4" fill="#fff" stroke="#000" stroke-width="1.2"/>
<circle cx="368.72" cy="280.08" r="2.4" fill="#fff" stroke="#000" stroke-width="1.2"/>
<circle cx="373.86" cy="277.22" r="2.4" fill="#fff" stroke="#000" stroke-width="1.2"/>
<circle cx="379.00" cy="274.34" r="2.4" fill="#fff" stroke="#000" stroke-width="1.2"/>
<circle cx="384.14" cy="271.45" r="2.4" fill="#fff" stroke="#000" stroke-width="1.2"/>
<circle cx="389.28" cy="268.55" r="2.4" fill="#fff" stroke="#000" stroke-width="1.2"/>
<circle cx="394.42" cy="265.62" r="2.4" fill="#fff" stroke="#000" stroke-width="1.2"/>
<circle cx="399.56" cy="262.68" r="2.4" fill="#fff" stroke="#000" stroke-width="1.2"/>
<circle cx="404.70" cy="259.73" r="2.4" fill="#fff" stroke="#000" stroke-width="1.2"/>
<circle cx="409.84" cy="256.76" r="2.4" fill="#fff" stroke="#000" stroke-width="1.2"/>
<circle cx="414.98" cy="253.78" r="2.4" fill="#fff" stroke="#000" stroke-width="1.2"/>
<circle cx="420.12" cy="250.77" r="2.4" fill="#fff" stroke="#000" stroke-width="1.2"/>
<circle cx="425.26" cy="247.76" r="2.4" fill="#fff" stroke="#000" stroke-width="1.2"/>
<circle cx="430.40" cy="244.72" r="2.4" fill="#fff" stroke="#000" stroke-width="1.2"/>
<circle cx="435.54" cy="241.68" r="2.4" fill="#fff" stroke="#000" stroke-width="1.2"/>
<circle cx="440.68" cy="238.61" r="2.4" fill="#fff" stroke="#000" stroke-width="1.2"/>
<circle cx="445.82" cy="235.53" r="2.4" fill="#fff" stroke="#000" stroke-width="1.2"/>
<circle cx="450.96" cy="232.44" r="2.4" fill="#fff" stroke="#000" stroke-width="1.2"/>
<circle cx="456.10" cy="229.32" r="2.4" fill="#fff" stroke="#000" stroke-width="1.2"/>
</svg>
</body></html>
